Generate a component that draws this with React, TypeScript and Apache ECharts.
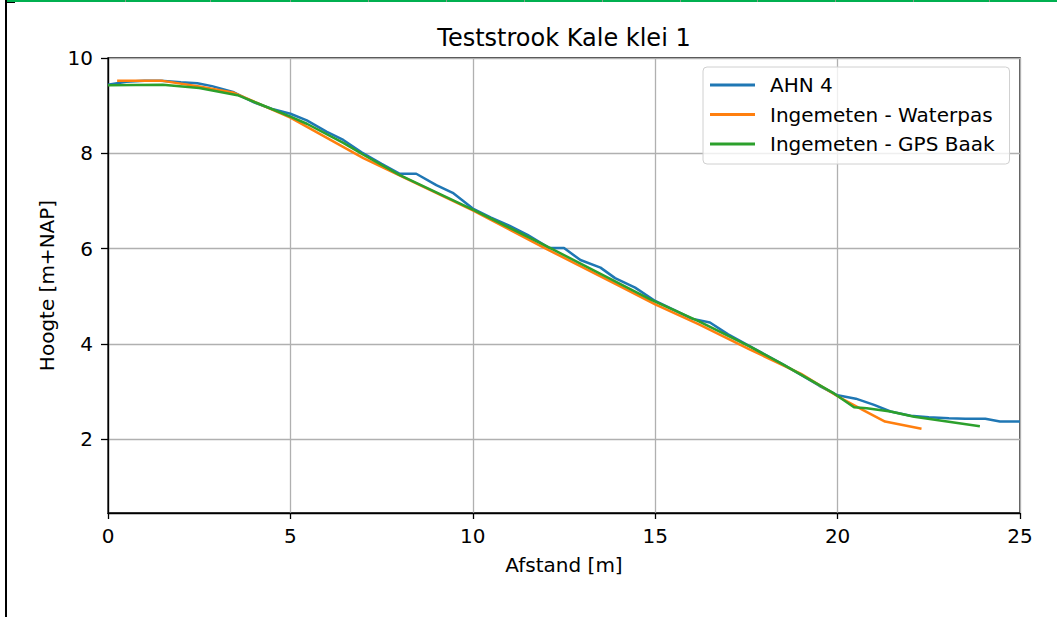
import React, { useEffect, useRef } from 'react';
import * as echarts from 'echarts';

const chartTitle = 'Teststrook Kale klei 1';
const xAxisName = 'Afstand [m]';
const yAxisName = 'Hoogte [m+NAP]';
const seriesNames = ['AHN 4', 'Ingemeten - Waterpas', 'Ingemeten - GPS Baak'];
const seriesColors = ['#1f77b4', '#ff7f0e', '#2ca02c'];
const yTickValues = [2, 4, 6, 8, 10];

const ahnX = [0, 0.5, 1.0, 1.45, 2.0, 2.45, 2.85, 3.45, 4.0, 4.5, 5.0, 5.45, 6.0, 6.45, 6.95, 7.5, 8.0, 8.45, 9.0, 9.45, 10.0, 10.5, 11.0, 11.5, 12.1, 12.5, 12.95, 13.5, 13.9, 14.45, 15.0, 15.5, 16.0, 16.5, 17.0, 17.5, 18.0, 18.5, 19.0, 19.5, 20.0, 20.5, 21.0, 21.45, 22.0, 22.5, 23.05, 23.5, 24.05, 24.45, 25.0];
const ahnY = [9.44, 9.5, 9.52, 9.52, 9.49, 9.47, 9.41, 9.28, 9.07, 8.93, 8.83, 8.69, 8.45, 8.28, 8.02, 7.78, 7.57, 7.57, 7.33, 7.17, 6.84, 6.65, 6.48, 6.29, 6.01, 6.01, 5.76, 5.6, 5.38, 5.18, 4.9, 4.72, 4.53, 4.45, 4.2, 3.99, 3.78, 3.57, 3.35, 3.12, 2.92, 2.85, 2.72, 2.58, 2.49, 2.46, 2.44, 2.43, 2.43, 2.37, 2.37];

const waterpasX = [0.25, 1.5, 2.5, 3.45, 5.0, 7.0, 10.0, 12.0, 14.0, 15.0, 16.2, 17.6, 19.0, 20.0, 20.7, 21.3, 22.3];
const waterpasY = [9.52, 9.52, 9.4, 9.27, 8.75, 7.9, 6.8, 6.0, 5.22, 4.83, 4.41, 3.88, 3.37, 2.9, 2.61, 2.37, 2.22];

const gpsX = [0, 1.5, 2.5, 3.55, 4.1, 5.0, 5.45, 6.45, 7.0, 8.0, 10.0, 12.1, 14.85, 16.2, 17.6, 18.5, 19.9, 20.45, 20.8, 21.45, 22.1, 23.9];
const gpsY = [9.43, 9.44, 9.37, 9.22, 9.05, 8.77, 8.62, 8.22, 7.97, 7.54, 6.82, 6.02, 4.94, 4.47, 3.94, 3.57, 2.96, 2.67, 2.65, 2.58, 2.47, 2.27];

const frameMarks = [125, 210, 290, 368, 446, 524, 602, 680, 757, 835, 913, 989];

const pairs = (xs: number[], ys: number[]) => xs.map((x, i) => [x, ys[i]]);

const FONT = 'DejaVu Sans';

export default function App() {
  const ref = useRef<HTMLDivElement>(null);
  useEffect(() => {
    if (!ref.current) return;
    const chart = echarts.init(ref.current, undefined, { renderer: 'svg' });
    const data = [pairs(ahnX, ahnY), pairs(waterpasX, waterpasY), pairs(gpsX, gpsY)];
    chart.setOption({
      animation: false,
      backgroundColor: '#fff',
      textStyle: { fontFamily: FONT },
      title: {
        text: chartTitle,
        left: 564,
        top: 26,
        padding: 0,
        textAlign: 'center',
        textStyle: { fontFamily: FONT, fontSize: 24, fontWeight: 'normal', color: '#000' },
      },
      grid: {
        left: 108,
        right: 39,
        top: 58,
        bottom: 104,
        show: true,
        borderColor: '#000',
        borderWidth: 1.3,
        backgroundColor: 'transparent',
        outerBoundsMode: 'none',
      },
      legend: {
        orient: 'vertical',
        left: 703,
        top: 67,
        padding: [7, 15, 9, 7],
        itemGap: 7.5,
        itemWidth: 45,
        itemHeight: 3,
        icon: 'rect',
        backgroundColor: 'rgba(255,255,255,0.8)',
        borderColor: '#d0d0d0',
        borderWidth: 1,
        borderRadius: 4,
        data: seriesNames,
        textStyle: { fontFamily: FONT, fontSize: 20, color: '#000', lineHeight: 22, padding: [0, 0, 0, 10] },
      },
      xAxis: {
        type: 'value',
        min: 0,
        max: 25,
        interval: 5,
        name: xAxisName,
        nameLocation: 'middle',
        nameGap: 42,
        nameTextStyle: { fontFamily: FONT, fontSize: 20, color: '#000' },
        axisLine: { show: true, lineStyle: { color: '#000', width: 1.3 } },
        axisTick: { show: true, length: 6, lineStyle: { color: '#000', width: 1.3 } },
        axisLabel: { margin: 13, fontFamily: FONT, fontSize: 20, color: '#000' },
        splitLine: { show: true, lineStyle: { color: '#b0b0b0', width: 1.3 } },
      },
      yAxis: {
        type: 'value',
        min: 0.45,
        max: 10,
        name: yAxisName,
        nameLocation: 'middle',
        nameGap: 50,
        nameTextStyle: { fontFamily: FONT, fontSize: 20, color: '#000' },
        axisLine: { show: true, onZero: false, lineStyle: { color: '#000', width: 1.3 } },
        axisTick: { show: true, length: 7, customValues: yTickValues, lineStyle: { color: '#000', width: 1.3 } },
        axisLabel: { margin: 15, customValues: yTickValues, fontFamily: FONT, fontSize: 20, color: '#000' },
        splitLine: { show: true, lineStyle: { color: '#b0b0b0', width: 1.3 } },
      },
      series: seriesNames.map((name, i) => ({
        name,
        type: 'line',
        data: data[i],
        showSymbol: false,
        symbol: 'none',
        color: seriesColors[i],
        lineStyle: { color: seriesColors[i], width: 2.5 },
        z: 2 + i,
      })),
      graphic: [
        { type: 'rect', shape: { x: 5, y: 0, width: 2, height: 617 }, style: { fill: '#000' }, silent: true },
        { type: 'rect', shape: { x: 7, y: 0, width: 1050, height: 2 }, style: { fill: '#00b050' }, silent: true },
        { type: 'rect', shape: { x: 7, y: 2, width: 8, height: 1 }, style: { fill: '#000' }, silent: true },
        ...frameMarks.map((mx) => ({
          type: 'rect',
          shape: { x: mx, y: 0, width: 1, height: 2 },
          style: { fill: '#8a9a8a' },
          silent: true,
        })),
      ],
    });
    return () => chart.dispose();
  }, []);
  return <div ref={ref} style={{ position: 'absolute', left: 0, top: 0, width: 1059, height: 617 }} />;
}
